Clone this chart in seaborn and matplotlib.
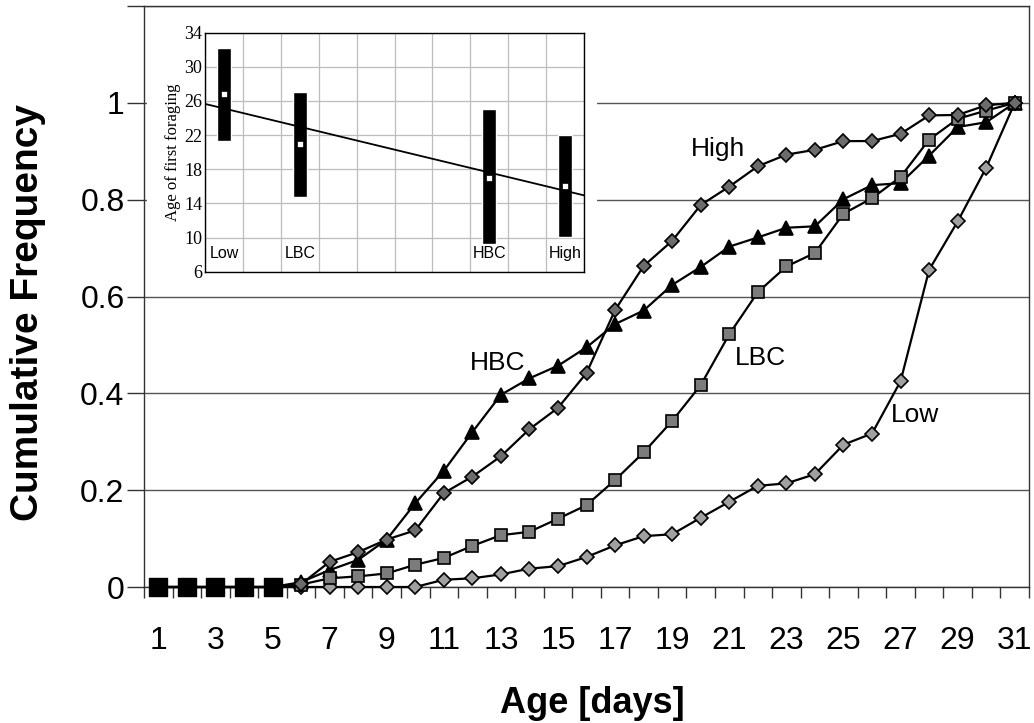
import matplotlib

matplotlib.use("Agg")
import matplotlib.pyplot as plt
import numpy as np
import pandas as pd
import seaborn as sns
from matplotlib.patches import Rectangle

# cumulative frequency of first foraging, days 1..31
days = list(range(1, 32))
high = [0, 0, 0, 0, 0, 0.006, 0.052, 0.072, 0.098, 0.117, 0.194, 0.228, 0.270, 0.326, 0.370, 0.442,
        0.572, 0.663, 0.715, 0.789, 0.827, 0.869, 0.893, 0.903, 0.921, 0.921, 0.936, 0.974, 0.975, 0.995, 1.0]
hbc = [0, 0, 0, 0, 0, 0.010, 0.035, 0.056, 0.098, 0.173, 0.240, 0.320, 0.397, 0.431, 0.457, 0.495,
       0.543, 0.571, 0.624, 0.661, 0.703, 0.722, 0.742, 0.745, 0.801, 0.830, 0.834, 0.891, 0.950, 0.960, 1.0]
lbc = [0, 0, 0, 0, 0, 0.005, 0.018, 0.022, 0.028, 0.046, 0.060, 0.085, 0.107, 0.114, 0.141, 0.169,
       0.221, 0.278, 0.343, 0.417, 0.522, 0.609, 0.662, 0.690, 0.771, 0.803, 0.847, 0.924, 0.967, 0.984, 1.0]
low = [0, 0, 0, 0, 0, 0, 0, 0, 0, 0, 0.015, 0.018, 0.026, 0.038, 0.043, 0.062,
       0.086, 0.105, 0.109, 0.143, 0.176, 0.209, 0.214, 0.233, 0.294, 0.317, 0.425, 0.655, 0.755, 0.866, 1.0]
zero_days = [1, 2, 3, 4, 5]

# curve labels: (text, day, value)
curve_labels = [("High", 20.6, 0.905), ("HBC", 12.9, 0.463), ("LBC", 22.1, 0.473), ("Low", 27.5, 0.355)]

# inset: age of first foraging per group
inset_groups = ["Low", "LBC", "HBC", "High"]
inset_pos = [0.5, 2.5, 7.5, 9.5]
inset_mean = [26.8, 20.9, 17.0, 16.0]
inset_lo = [21.3, 14.7, 9.2, 10.1]
inset_hi = [32.2, 27.0, 25.0, 22.0]
inset_yticks = [6, 10, 14, 18, 22, 26, 30, 34]
reg_intercept = 25.65
reg_slope = -1.07

sns.set_theme(style="white")
plt.rcParams["font.family"] = ["Liberation Sans", "DejaVu Sans"]
plt.rcParams["text.color"] = "black"
plt.rcParams["axes.labelcolor"] = "black"
plt.rcParams["xtick.color"] = "black"
plt.rcParams["ytick.color"] = "black"
serif = ["Liberation Serif", "DejaVu Serif"]

fig = plt.figure(figsize=(10.34, 7.23), dpi=100)
ax = fig.add_axes([0.1393, 0.1881, 0.8559, 0.8036])

series = [
    (low, "D", 7.4, "#a0a0a0"),
    (hbc, "^", 10.5, "black"),
    (lbc, "s", 8.5, "#7c7c7c"),
    (high, "D", 7.4, "#6c6c6c"),
]
for vals, marker, ms, face in series:
    df = pd.DataFrame({"day": days, "freq": vals})
    sns.lineplot(data=df, x="day", y="freq", ax=ax, color="black", lw=1.6,
                 marker=marker, markersize=ms, markerfacecolor=face,
                 markeredgecolor="black", markeredgewidth=1.2, zorder=3, clip_on=False)

sns.scatterplot(x=zero_days, y=[0] * len(zero_days), ax=ax, marker="s", s=150,
                color="black", edgecolor="black", linewidth=1, zorder=4, clip_on=False)

for text, xd, yv in curve_labels:
    ax.text(xd, yv, text, fontsize=19, ha="center", va="center", color="black")

ax.set_xlim(0.5, 31.5)
ax.set_ylim(0, 1.2)
ax.set_xticks(days[::2])
ax.set_xticklabels([str(d) for d in days[::2]])
ax.set_xticks(np.arange(0.5, 32, 1), minor=True)
ax.set_yticks(np.arange(0, 1.21, 0.2))
ax.set_yticklabels(["0", "0.2", "0.4", "0.6", "0.8", "1", ""])
ax.tick_params(axis="x", which="major", length=0, pad=28, labelsize=23)
ax.tick_params(axis="x", which="minor", length=8, width=1, color="#333333", direction="out")
ax.tick_params(axis="y", which="major", length=12, width=1, color="#333333", direction="out",
               pad=2, labelsize=23)
ax.tick_params(bottom=True, left=True, which="both")
ax.yaxis.grid(True, color="#555555", lw=1.0)
ax.xaxis.grid(False)
for sp in ax.spines.values():
    sp.set_color("#333333")
    sp.set_linewidth(1.0)

ax.set_xlabel("Age [days]", fontsize=26, fontweight="bold")
ax.set_ylabel("Cumulative Frequency", fontsize=28, fontweight="bold")
ax.xaxis.set_label_coords(0.506, -0.201)
ax.xaxis.label.set_verticalalignment("center")
ax.yaxis.set_label_coords(-0.131, 0.472)
ax.yaxis.label.set_verticalalignment("center")

# white panel under the inset
fig.patches.append(Rectangle((0.1422, 0.5961), 0.4352, 0.3915, transform=fig.transFigure,
                             facecolor="white", edgecolor="none", zorder=1))

ins = fig.add_axes([0.1983, 0.624, 0.3665, 0.331])
ins.set_zorder(2)
heights = [h - l for h, l in zip(inset_hi, inset_lo)]
ins.bar(inset_pos, heights, bottom=inset_lo, width=0.36, color="black", zorder=3)
sns.scatterplot(x=inset_pos, y=inset_mean, ax=ins, marker="s", s=16, color="white",
                edgecolor="black", linewidth=0.5, zorder=4)
reg_x = np.array([0, 10])
ins.plot(reg_x, reg_intercept + reg_slope * reg_x, color="black", lw=1.3, zorder=5)
for name, xp in zip(inset_groups, inset_pos):
    ins.text(xp, 8.2, name, fontsize=11.5, ha="center", va="center", color="black")
ins.set_xlim(0, 10)
ins.set_ylim(6, 34)
ins.set_xticks(np.arange(0, 11, 1))
ins.set_xticklabels([])
ins.tick_params(axis="both", length=0, pad=2)
ins.set_yticks(inset_yticks, labels=[str(t) for t in inset_yticks],
               fontsize=13, family=serif)
ins.grid(True, color="#bdbdbd", lw=0.9)
ins.set_axisbelow(True)
for sp in ins.spines.values():
    sp.set_color("black")
    sp.set_linewidth(1.0)
ins.set_ylabel("Age of first foraging", fontsize=12, family=serif, labelpad=2)

fig.savefig("out.png", dpi=100)
